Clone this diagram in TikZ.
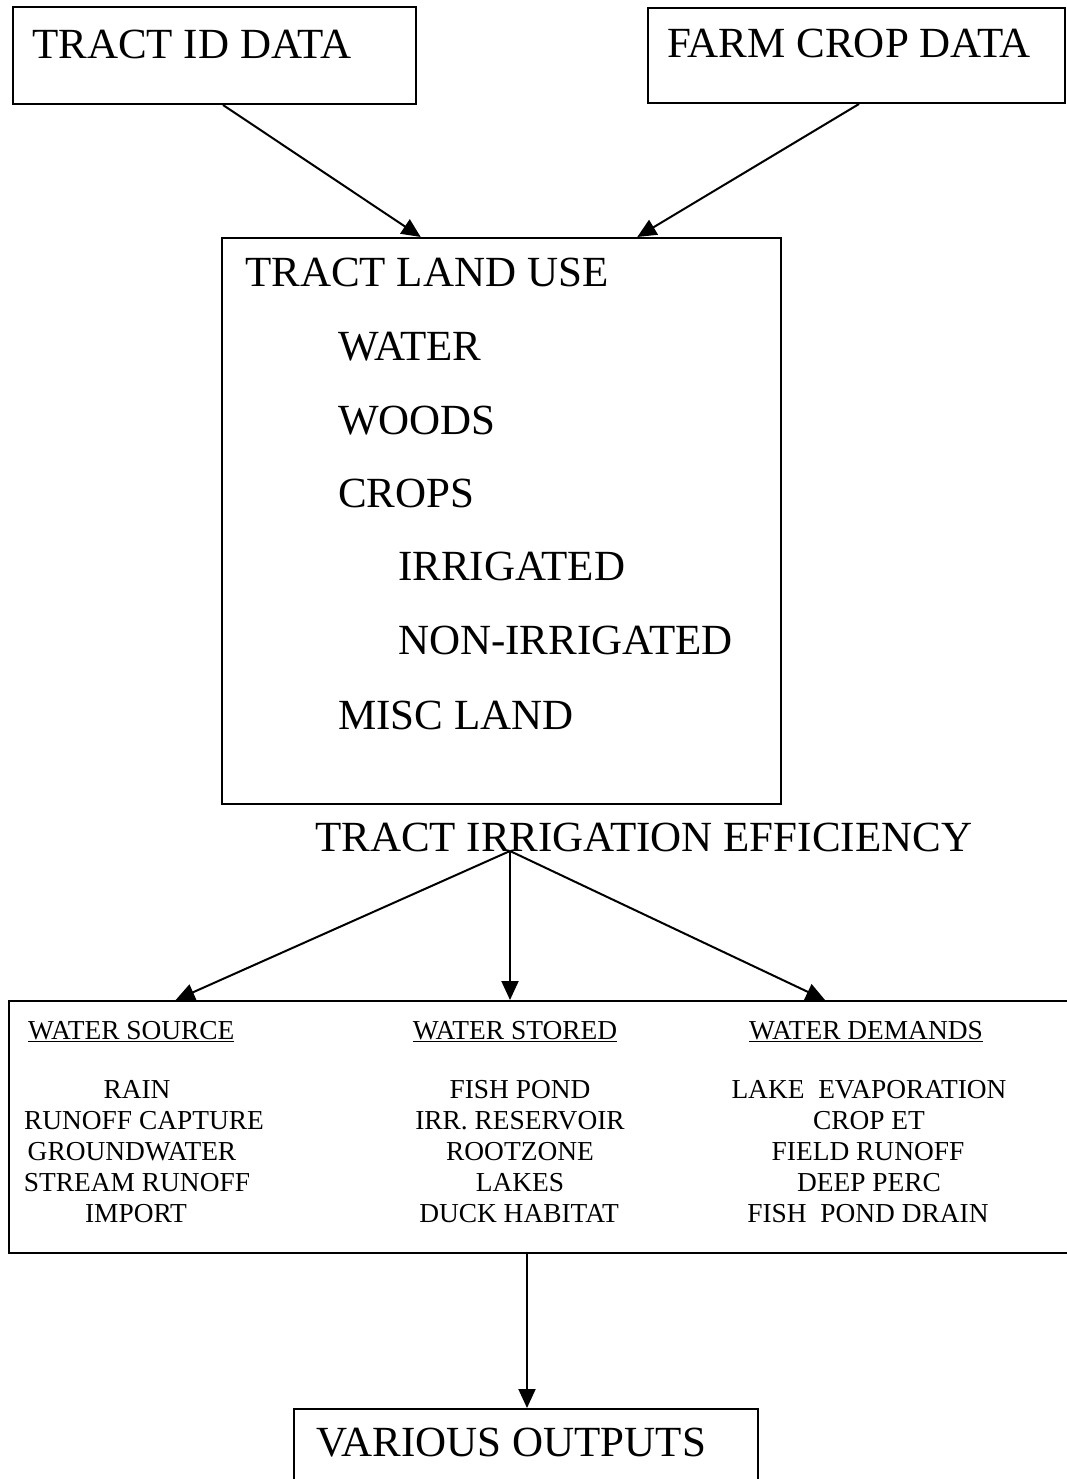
\documentclass[tikz,border=0pt]{standalone}
\usepackage{fontspec}
\setmainfont{Liberation Serif}
\usetikzlibrary{arrows.meta,calc}
\begin{document}
\begin{tikzpicture}[x=1pt,y=-1pt,
  box/.style={draw=black,line width=2pt,inner sep=0pt,anchor=north west},
  big/.style={font=\fontsize{43}{50}\selectfont,inner sep=0pt,anchor=base west},
  small/.style={font=\fontsize{27.4}{31}\selectfont,inner sep=0pt,anchor=base},
  arr/.style={line width=2pt,-{Triangle[length=19pt,width=17pt]}}]
\useasboundingbox[fill=white] (0,0) rectangle (1066,1479);
% boxes
\node[box,minimum width=403pt,minimum height=97pt] (tid) at (12,6) {};
\node[box,minimum width=417pt,minimum height=95pt] (fcd) at (647,7) {};
\node[box,minimum width=559pt,minimum height=566pt] (lu) at (221,237) {};
\node[box,minimum width=1066pt,minimum height=252pt] (ws) at (8,1000) {};
\node[box,minimum width=464pt,minimum height=100pt] (vo) at (293,1408) {};
% big texts
\node[big] (t1) at (32,59) {TRACT ID DATA};
\node[big] (t2) at (667,58) {FARM CROP DATA};
\node[big] (l0) at (245,286) {TRACT LAND USE};
\node[big] (l1) at (338,360) {WATER};
\node[big] (l2) at (338,434) {WOODS};
\node[big] (l3) at (338,507) {CROPS};
\node[big] (l4) at (398,580) {IRRIGATED};
\node[big] (l5) at (398,654) {NON-IRRIGATED};
\node[big] (l6) at (338,729) {MISC LAND};
\node[big] (eff) at (315,851) {TRACT IRRIGATION EFFICIENCY};
\node[big] (t5) at (316,1456) {VARIOUS OUTPUTS};
\coordinate (apex) at (510,851);
% column 1
\node[small,anchor=base west] (h1) at (28,1039) {\underline{WATER SOURCE}};
\node[small] (a1) at (137,1098) {RAIN};
\node[small] (a2) at (144,1129) {RUNOFF CAPTURE};
\node[small] (a3) at (132,1160) {GROUNDWATER};
\node[small] (a4) at (137,1191) {STREAM RUNOFF};
\node[small] (a5) at (136,1222) {IMPORT};
% column 2
\node[small] (h2) at (515,1039) {\underline{WATER STORED}};
\node[small] (b1) at (520,1098) {FISH POND};
\node[small] (b2) at (520,1129) {IRR. RESERVOIR};
\node[small] (b3) at (520,1160) {ROOTZONE};
\node[small] (b4) at (520,1191) {LAKES};
\node[small] (b5) at (519,1222) {DUCK HABITAT};
% column 3
\node[small] (h3) at (866,1039) {\underline{WATER DEMANDS}};
\node[small] (c1) at (869,1098) {LAKE\ \ EVAPORATION};
\node[small] (c2) at (869,1129) {CROP ET};
\node[small] (c3) at (868,1160) {FIELD RUNOFF};
\node[small] (c4) at (869,1191) {DEEP PERC};
\node[small] (c5) at (868,1222) {FISH\ \ POND DRAIN};
% connectors
\draw[arr] ($(tid.south west)!0.521!(tid.south east)$) -- ($(lu.north west)!0.356!(lu.north east)$);
\draw[arr] ($(fcd.south west)!0.506!(fcd.south east)$) -- ($(lu.north west)!0.742!(lu.north east)$);
\draw[arr] (apex) -- ($(ws.north west)!0.157!(ws.north east)$ -| 175,0);
\draw[arr] (apex) -- (510,1000);
\draw[arr] (apex) -- (825,1000);
\draw[arr] (527,1252) -- (vo.north -| 527,0);
\end{tikzpicture}
\end{document}
